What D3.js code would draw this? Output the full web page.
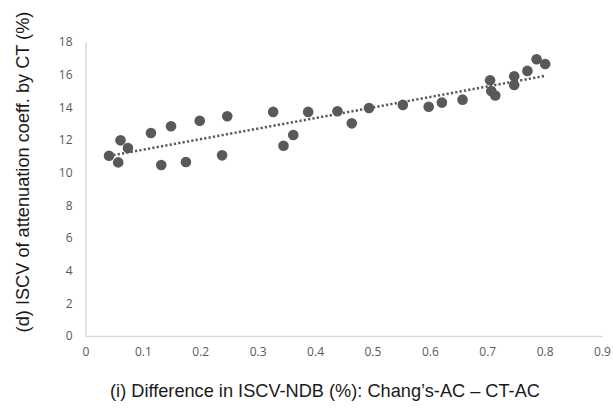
<!DOCTYPE html>
<html>
<head>
<meta charset="utf-8">
<script src="https://cdn.jsdelivr.net/npm/d3@7"></script>
<style>
  body { margin: 0; background: #fff; }
  .tick text { font-family: "Open Sans", sans-serif; font-size: 12px; fill: #595959; }
  .title { font-family: "Liberation Sans", Arial, sans-serif; font-size: 18.2px; fill: #1a1a1a; }
</style>
</head>
<body>
<div class="chart"></div>
<script>
// scatter values
const xVals = [0.041, 0.057, 0.061, 0.074, 0.114, 0.132, 0.149, 0.175, 0.199, 0.238,
  0.247, 0.327, 0.345, 0.362, 0.388, 0.439, 0.464, 0.494, 0.553, 0.598,
  0.621, 0.657, 0.705, 0.707, 0.714, 0.747, 0.747, 0.770, 0.786, 0.801];
const yVals = [11.04, 10.63, 11.98, 11.51, 12.43, 10.47, 12.84, 10.65, 13.18, 11.06,
  13.45, 13.72, 11.65, 12.31, 13.72, 13.76, 13.02, 13.96, 14.15, 14.04,
  14.29, 14.47, 15.66, 15.0, 14.72, 15.9, 15.37, 16.23, 16.94, 16.65];
const xTicks = [0, 0.1, 0.2, 0.3, 0.4, 0.5, 0.6, 0.7, 0.8, 0.9];
const yTicks = [0, 2, 4, 6, 8, 10, 12, 14, 16, 18];

const data = xVals.map((x, i) => ({x: x, y: yVals[i]}));

const width = 613, height = 409;
const margin = ({top: 42, right: 11, bottom: 73, left: 85.5});

const svg = d3.select(".chart").append("svg")
  .attr("width", width)
  .attr("height", height);

const xScale = d3.scaleLinear().domain([0, 0.9]).range([margin.left, width - margin.right]);
const yScale = d3.scaleLinear().domain([0, 18]).range([height - margin.bottom, margin.top]);

const xAxis = d3.axisBottom(xScale).tickValues(xTicks).tickSize(0).tickPadding(11)
  .tickFormat(d => d === 0 ? "0" : d3.format(".1f")(d));
const yAxis = d3.axisLeft(yScale).tickValues(yTicks).tickSize(0).tickPadding(13);

svg.append("g")
  .attr("transform", `translate(0,${height - margin.bottom})`)
  .call(xAxis)
  .call(g => g.select(".domain").attr("stroke", "#d9d9d9").attr("stroke-width", 1.5));

svg.append("g")
  .attr("transform", `translate(${margin.left},0)`)
  .call(yAxis)
  .call(g => g.select(".domain").attr("stroke", "#d9d9d9").attr("stroke-width", 1.5));

// linear trend line (least squares)
const mx = d3.mean(data, d => d.x), my = d3.mean(data, d => d.y);
const slope = d3.sum(data, d => (d.x - mx) * (d.y - my)) / d3.sum(data, d => (d.x - mx) ** 2);
const icept = my - slope * mx;
const x0 = d3.min(xVals), x1 = d3.max(xVals);

svg.append("line")
  .attr("x1", xScale(x0)).attr("y1", yScale(icept + slope * x0))
  .attr("x2", xScale(x1)).attr("y2", yScale(icept + slope * x1))
  .attr("stroke", "#595959")
  .attr("stroke-width", 2.5)
  .attr("stroke-dasharray", "2.2,2.2");

svg.selectAll("circle")
  .data(data)
  .enter()
  .append("circle")
  .attr("cx", d => xScale(d.x))
  .attr("cy", d => yScale(d.y))
  .attr("r", 5.3)
  .attr("fill", "#595959");

svg.append("text")
  .attr("class", "title")
  .attr("x", 325)
  .attr("y", 397)
  .attr("text-anchor", "middle")
  .text("(i) Difference in ISCV-NDB (%): Chang\u2019s-AC \u2013 CT-AC");

svg.append("text")
  .attr("class", "title")
  .attr("transform", "translate(29,172) rotate(-90)")
  .attr("text-anchor", "middle")
  .text("(d) ISCV of attenuation coeff. by CT (%)");
</script>
</body>
</html>
